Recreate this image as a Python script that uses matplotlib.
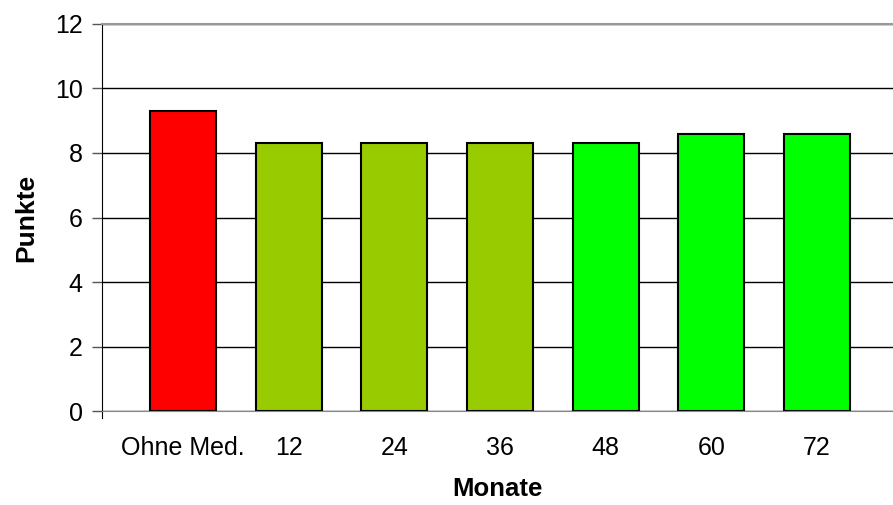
import matplotlib
matplotlib.use('Agg')
import matplotlib.pyplot as plt

plt.rcParams['font.family'] = ['Liberation Sans', 'DejaVu Sans']

# Daten
kategorien = ['Ohne Med.', '12', '24', '36', '48', '60', '72']
punkte = [9.3, 8.3, 8.3, 8.3, 8.3, 8.6, 8.6]
farben = ['#FF0000', '#99CC00', '#99CC00', '#99CC00', '#00FF00', '#00FF00', '#00FF00']

fig = plt.figure(figsize=(8.93, 5.05), dpi=100)
ax = fig.add_axes([0.1142, 0.1861, 0.8858, 0.7664])

x = range(len(kategorien))
ax.bar(x, punkte, width=0.625, color=farben, edgecolor='black', linewidth=1.5, zorder=3)

ax.set_ylim(0, 12)
ax.set_xlim(-0.767, 6.72)
ax.set_yticks(range(0, 13, 2))
ax.yaxis.grid(True, color='black', linewidth=1, zorder=0)
ax.set_xticks(list(x))
ax.set_xticklabels(kategorien)
ax.tick_params(axis='x', length=0, pad=18, labelsize=18)
ax.tick_params(axis='y', length=7, width=1, pad=7, labelsize=18, color='#555555')

ax.spines['right'].set_visible(False)
ax.spines['top'].set_color('#999999')
ax.spines['top'].set_linewidth(1.5)
ax.spines['bottom'].set_color('#888888')
ax.spines['left'].set_color('black')
ax.spines['left'].set_bounds(-0.22, 12)

ax.set_xlabel('Monate', fontsize=18.5, fontweight='bold', labelpad=12)
ax.set_ylabel('Punkte', fontsize=19, fontweight='bold', labelpad=12)

fig.savefig('out.png', dpi=100)
